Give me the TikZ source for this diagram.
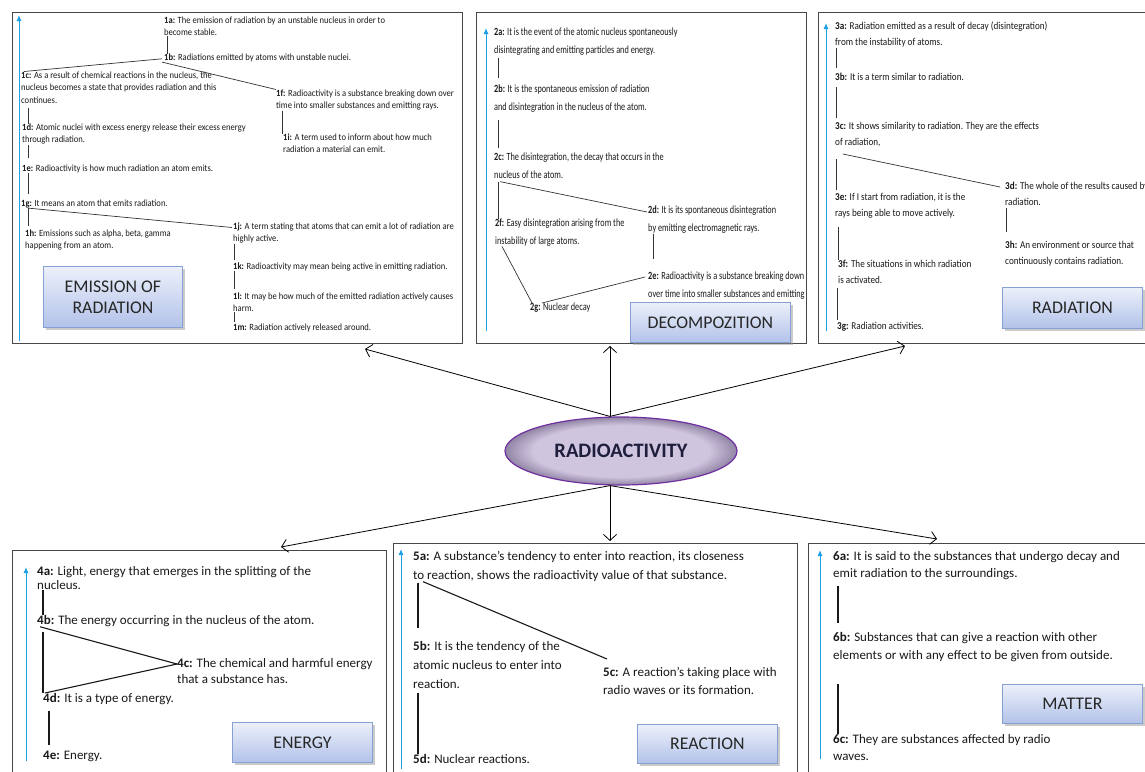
\documentclass[tikz,border=0pt]{standalone}
\usepackage{fontspec}
\setmainfont{Carlito}
\newfontfamily\tinyfont[FakeStretch=0.9]{Carlito}
\newfontfamily\narrowfont[FakeStretch=0.75]{Carlito}
\newfontfamily\slimfont[FakeStretch=0.87]{Carlito}
\usepackage{tikz}
\usetikzlibrary{shapes,positioning,arrows.meta,shadows,calc}
\definecolor{flowblue}{RGB}{30,160,230}
\definecolor{tagline}{RGB}{135,160,212}
\definecolor{tagtop}{RGB}{236,240,250}
\definecolor{tagfill}{RGB}{178,194,233}
\definecolor{hubrim}{RGB}{112,48,160}
\definecolor{hubfill}{RGB}{207,197,222}
\definecolor{hubdark}{RGB}{145,132,165}
\definecolor{hubtext}{RGB}{30,30,60}
\pgfdeclareradialshading{hubglow}{\pgfpoint{0bp}{0bp}}{color(0bp)=(hubfill); color(19bp)=(hubfill); color(25bp)=(hubdark); color(50bp)=(hubdark)}

\begin{document}
\begin{tikzpicture}[x=1pt, y=-1pt,
    panel/.style={draw=black!72, line width=1.4pt, anchor=north west, inner sep=0pt},
    note/.style={anchor=north west, inner sep=0pt, align=left, text=black!90},
    smallnote/.style={note, font=\tinyfont\fontsize{9.5}{12.5}\selectfont},
    narrownote/.style={note, font=\narrowfont\fontsize{11}{17.5}\selectfont},
    slimnote/.style={note, font=\slimfont\fontsize{10.5}{16}\selectfont},
    bignote/.style={note, font=\fontsize{13}{#1}\selectfont},
    link/.style={draw=black!80, line width=0.7pt},
    heavylink/.style={draw=black!90, line width=1.1pt},
    flow/.style={draw=flowblue, line width=1pt, -{Latex[length=6pt,width=5pt]}},
    tag/.style={draw=tagline, line width=0.8pt, top color=tagtop, bottom color=tagfill,
        drop shadow={shadow xshift=3pt, shadow yshift=-3pt, fill=black!40},
        anchor=north west, inner sep=0pt, align=center, text=black!85,
        font=\fontsize{17.8}{21}\selectfont},
    hub/.style={ellipse, draw=hubrim, line width=1.2pt, shading=hubglow,
        minimum width=232pt, minimum height=68pt, text=hubtext,
        font=\bfseries\fontsize{20.5}{22}\selectfont},
    spoke/.style={line width=0.8pt, -{Straight Barb[length=6pt,width=13pt]}}]

  \fill[white] (0,0) rectangle (1145,771);
  \useasboundingbox (0,0) rectangle (1145,771);

  % frames
  \node[panel, minimum width=450pt, minimum height=331pt] (p1) at (12,12) {};
  \node[panel, minimum width=330pt, minimum height=331pt] (p2) at (476,12) {};
  \node[panel, minimum width=335pt, minimum height=331pt] (p3) at (818,12) {};
  \node[panel, minimum width=374pt, minimum height=225pt] (p4) at (12,550) {};
  \node[panel, minimum width=404pt, minimum height=232pt] (p5) at (393,543) {};
  \node[panel, minimum width=345pt, minimum height=232pt] (p6) at (808,543) {};

  \draw[flow] ([xshift=7pt,yshift=3pt]p1.south west) -- ([xshift=7pt,yshift=-3pt]p1.north west);
  \draw[flow] ([xshift=10pt,yshift=13pt]p2.south west) -- ([xshift=10pt,yshift=-16pt]p2.north west);
  \draw[flow] ([xshift=8pt,yshift=13pt]p3.south west) -- ([xshift=8pt,yshift=-11pt]p3.north west);
  \draw[flow] ([xshift=14pt,yshift=15pt]p4.south west) -- ([xshift=14pt,yshift=-17pt]p4.north west);
  \draw[flow] ([xshift=8pt,yshift=7pt]p5.south west) -- ([xshift=8pt,yshift=-6pt]p5.north west);
  \draw[flow] ([xshift=12pt,yshift=17pt]p6.south west) -- ([xshift=12pt,yshift=-7pt]p6.north west);

  % emission of radiation
  \node[smallnote] (a1) at (164,16.5) {\textbf{1a:} The emission of radiation by an unstable nucleus in order to\\become stable.};
  \node[smallnote] (b1) at (164,53.5) {\textbf{1b:} Radiations emitted by atoms with unstable nuclei.};
  \node[smallnote] (c1) at (21,71.5) {\textbf{1c:} As a result of chemical reactions in the nucleus, the\\nucleus becomes a state that provides radiation and this\\continues.};
  \node[smallnote] (d1) at (22,123.5) {\textbf{1d:} Atomic nuclei with excess energy release their excess energy\\through radiation.};
  \node[smallnote] (e1) at (22,164.5) {\textbf{1e:} Radioactivity is how much radiation an atom emits.};
  \node[smallnote] (f1) at (276,89.5) {\textbf{1f:} Radioactivity is a substance breaking down over\\time into smaller substances and emitting rays.};
  \node[smallnote] (i1) at (283,133.5) {\textbf{1i:} A term used to inform about how much\\radiation a material can emit.};
  \node[smallnote] (g1) at (21,199.5) {\textbf{1g:} It means an atom that emits radiation.};
  \node[smallnote] (h1) at (25,229.5) {\textbf{1h:} Emissions such as alpha, beta, gamma\\happening from an atom.};
  \node[smallnote] (j1) at (233,222.5) {\textbf{1j:} A term stating that atoms that can emit a lot of radiation are\\highly active.};
  \node[smallnote] (k1) at (233,262.5) {\textbf{1k:} Radioactivity may mean being active in emitting radiation.};
  \node[smallnote] (l1) at (233,292.5) {\textbf{1l:} It may be how much of the emitted radiation actively causes\\harm.};
  \node[smallnote] (m1) at (233,323.5) {\textbf{1m:} Radiation actively released around.};
  \node[tag, minimum width=139pt, minimum height=61pt] (t1) at (43,266) {EMISSION OF\\RADIATION};

  \draw[link] ([xshift=3pt]a1.south west) -- ([xshift=3pt]a1.south west |- b1.north);
  \draw[link] ([xshift=-2pt,yshift=-1pt]b1.west) -- ([xshift=3pt]c1.north west);
  \draw[link] ([xshift=-2pt]b1.south west) -- (f1.north west);
  \draw[link, shorten <=4pt] ([xshift=7pt]c1.south west) -- ([xshift=7pt]c1.south west |- d1.north);
  \draw[link, shorten >=7pt] ([xshift=6pt]d1.south west) -- ([xshift=6pt]d1.south west |- e1.north);
  \draw[link, shorten >=6pt] ([xshift=6pt]e1.south west) -- ([xshift=6pt]e1.south west |- g1.north);
  \draw[link] ([xshift=6pt]f1.south west) -- ([xshift=6pt]f1.south west |- i1.north);
  \draw[link, shorten >=4pt] ([xshift=7pt]g1.south west) -- ([xshift=7pt]g1.south west |- h1.north);
  \draw[link] ([xshift=7pt]g1.south west) -- ([shift={(-1pt,-5pt)}]j1.north west);
  \draw[link, shorten >=3pt] ([xshift=1pt]j1.south west) -- ([xshift=1pt]j1.south west |- k1.north);
  \draw[link, shorten >=4pt] ([xshift=1pt]k1.south west) -- ([xshift=1pt]k1.south west |- l1.north);
  \draw[link, shorten >=2pt] ([xshift=1pt]l1.south west) -- ([xshift=1pt]l1.south west |- m1.north);

  % decompozition
  \node[narrownote] (a2) at (494,28) {\textbf{2a:} It is the event of the atomic nucleus spontaneously\\disintegrating and emitting particles and energy.};
  \node[narrownote] (b2) at (494,85) {\textbf{2b:} It is the spontaneous emission of radiation\\and disintegration in the nucleus of the atom.};
  \node[narrownote] (c2) at (494,153) {\textbf{2c:} The disintegration, the decay that occurs in the\\nucleus of the atom.};
  \node[narrownote] (d2) at (648,206) {\textbf{2d:} It is its spontaneous disintegration\\by emitting electromagnetic rays.};
  \node[narrownote] (f2) at (495,219) {\textbf{2f:} Easy disintegration arising from the\\instability of large atoms.};
  \node[narrownote] (e2) at (648,272) {\textbf{2e:} Radioactivity is a substance breaking down\\over time into smaller substances and emitting};
  \node[narrownote] (g2) at (530,303) {\textbf{2g:} Nuclear decay};
  \node[tag, minimum width=160pt, minimum height=40pt] (t2) at (630,302) {DECOMPOZITION};

  \draw[link, shorten <=3pt, shorten >=7pt] ([xshift=4pt]a2.south west) -- ([xshift=4pt]a2.south west |- b2.north);
  \draw[link, shorten <=7pt, shorten >=5pt] ([xshift=4pt]b2.south west) -- ([xshift=4pt]b2.south west |- c2.north);
  \draw[link, shorten <=3pt] ([xshift=4pt]c2.south west) -- ([xshift=4pt]c2.south west |- f2.north);
  \draw[link] ([shift={(6pt,-3pt)}]c2.south west) -- ([shift={(-1pt,-6pt)}]d2.north west);
  \draw[link, shorten >=13pt] ([xshift=5pt]d2.south west) -- ([xshift=5pt]d2.south west |- e2.north);
  \draw[link] ([xshift=7pt]f2.south west) -- ([xshift=2pt]g2.north west);
  \draw[link] ([xshift=12pt]g2.north west) -- ([shift={(-3pt,-5pt)}]e2.north west);

  % radiation
  \node[slimnote] (a3) at (835,22) {\textbf{3a:} Radiation emitted as a result of decay (disintegration)\\from the instability of atoms.};
  \node[slimnote] (b3) at (835,73) {\textbf{3b:} It is a term similar to radiation.};
  \node[slimnote] (c3) at (835,122) {\textbf{3c:} It shows similarity to radiation. They are the effects\\of radiation,};
  \node[slimnote] (e3) at (835,193) {\textbf{3e:} If I start from radiation, it is the\\rays being able to move actively.};
  \node[slimnote] (f3) at (838,260) {\textbf{3f:} The situations in which radiation\\is activated.};
  \node[slimnote] (g3) at (837,322) {\textbf{3g:} Radiation activities.};
  \node[slimnote] (d3) at (1005,182) {\textbf{3d:} The whole of the results caused by\\radiation.};
  \node[slimnote] (h3) at (1005,241) {\textbf{3h:} An environment or source that\\continuously contains radiation.};
  \node[tag, minimum width=140pt, minimum height=41pt] (t3) at (1002,287) {RADIATION};

  \draw[link, shorten >=5pt] ([xshift=1pt]a3.south west) -- ([xshift=1pt]a3.south west |- b3.north);
  \draw[link, shorten <=6pt, shorten >=4pt] ([xshift=1pt]b3.south west) -- ([xshift=1pt]b3.south west |- c3.north);
  \draw[link, shorten <=12pt, shorten >=3pt] ([xshift=1pt]c3.south west) -- ([xshift=1pt]c3.south west |- e3.north);
  \draw[link] ([shift={(8pt,-7pt)}]c3.south west) -- ([shift={(-5pt,-5pt)}]d3.north west);
  \draw[link, shorten <=2pt, shorten >=9pt] ([xshift=1pt]d3.south west) -- ([xshift=1pt]d3.south west |- h3.north);
  \draw[link, shorten <=9pt] ([xshift=3pt]e3.south west) -- ([xshift=3pt]e3.south west |- f3.north);
  \draw[link, shorten <=4pt, shorten >=2pt] ([xshift=-1pt]f3.south west) -- ([xshift=-1pt]f3.south west |- g3.north);

  % energy
  \node[bignote=14.5] (a4) at (37,566) {\textbf{4a:} Light, energy that emerges in the splitting of the\\nucleus.};
  \node[bignote=15] (b4) at (37,615) {\textbf{4b:} The energy occurring in the nucleus of the atom.};
  \node[bignote=16] (c4) at (177,658) {\textbf{4c:} The chemical and harmful energy\\that a substance has.};
  \node[bignote=15] (d4) at (43,693) {\textbf{4d:} It is a type of energy.};
  \node[bignote=15] (e4) at (43,751) {\textbf{4e:} Energy.};
  \node[tag, minimum width=140pt, minimum height=40pt] (t4) at (232,722) {ENERGY};

  \draw[heavylink] ([xshift=6pt]a4.south west) -- ([xshift=6pt]a4.south west |- b4.north);
  \draw[heavylink] ([xshift=3pt]b4.south west) -- ([yshift=-6pt]c4.north west);
  \draw[heavylink, shorten <=5pt] ([xshift=6pt]b4.south west) -- ([xshift=6pt]b4.south west |- d4.north);
  \draw[heavylink] ([xshift=2pt]d4.north west) -- ([yshift=-6pt]c4.north west);
  \draw[heavylink, shorten <=6pt, shorten >=6pt] ([xshift=6pt]d4.south west) -- ([xshift=6pt]d4.south west |- e4.north);

  % reaction
  \node[bignote=19] (a5) at (413,551) {\textbf{5a:} A substance's tendency to enter into reaction, its closeness\\to reaction, shows the radioactivity value of that substance.};
  \node[bignote=19] (b5) at (413,641) {\textbf{5b:} It is the tendency of the\\atomic nucleus to enter into\\reaction.};
  \node[bignote=18] (c5) at (603,667) {\textbf{5c:} A reaction's taking place with\\radio waves or its formation.};
  \node[bignote=19] (d5) at (413,754) {\textbf{5d:} Nuclear reactions.};
  \node[tag, minimum width=140pt, minimum height=39pt] (t5) at (637,724) {REACTION};

  \draw[heavylink, shorten <=1pt, shorten >=13pt] ([xshift=5pt]a5.south west) -- ([xshift=5pt]a5.south west |- b5.north);
  \draw[heavylink] ([xshift=10pt]a5.south west) -- ([shift={(4pt,8pt)}]c5.north west);
  \draw[heavylink, shorten <=4pt] ([xshift=5pt]b5.south west) -- ([xshift=5pt]b5.south west |- d5.north);

  % matter
  \node[bignote=17] (a6) at (833,551) {\textbf{6a:} It is said to the substances that undergo decay and\\emit radiation to the surroundings.};
  \node[bignote=18] (b6) at (833,632) {\textbf{6b:} Substances that can give a reaction with other\\elements or with any effect to be given from outside.};
  \node[bignote=17] (c6) at (833,734) {\textbf{6c:} They are substances affected by radio\\waves.};
  \node[tag, minimum width=140pt, minimum height=39pt] (t6) at (1002,684) {MATTER};

  \draw[heavylink, shorten <=6pt, shorten >=9pt] ([xshift=5pt]a6.south west) -- ([xshift=5pt]a6.south west |- b6.north);
  \draw[heavylink, shorten <=22pt] ([xshift=5pt]b6.south west) -- ([xshift=5pt]b6.south west |- c6.north);

  % centre
  \node[hub] (radio) at (621,451) {RADIOACTIVITY};
  \coordinate (tipA) at (365,349);
  \coordinate (tipB) at (610,346);
  \coordinate (tipC) at (905,346);
  \coordinate (tipD) at (281,547);
  \coordinate (tipE) at (610,541);
  \coordinate (tipF) at (937,539);
  \draw[spoke] ([xshift=-11pt]radio.north) -- (tipA);
  \draw[spoke] ([xshift=-11pt]radio.north) -- (tipB);
  \draw[spoke] ([xshift=-11pt]radio.north) -- (tipC);
  \draw[spoke] ([xshift=-11pt]radio.south) -- (tipD);
  \draw[spoke] ([xshift=-11pt]radio.south) -- (tipE);
  \draw[spoke] ([xshift=-11pt]radio.south) -- (tipF);
\end{tikzpicture}
\end{document}
